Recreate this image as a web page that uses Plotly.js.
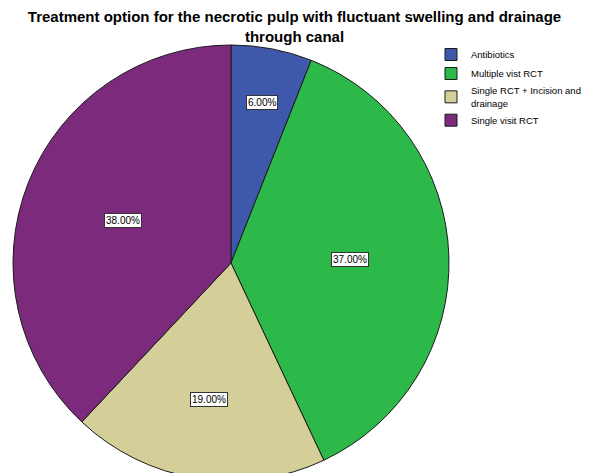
<!DOCTYPE html>
<html>
<head>
<meta charset="utf-8">
<script src="https://cdn.plot.ly/plotly-3.0.1.min.js"></script>
<style>
  html, body { margin: 0; padding: 0; background: #fff; overflow: hidden; }
  #chart { width: 589px; height: 490px; }
</style>
</head>
<body>
<div id="chart"></div>
<script>
// ---- data ----
const categories = ["Antibiotics", "Multiple vist RCT", "Single RCT + Incision and drainage", "Single visit RCT"];
const legendLabels = ["Antibiotics", "Multiple vist RCT", "Single RCT + Incision and<br>drainage", "Single visit RCT"];
const percentValues = [6, 37, 19, 38];
const sliceColors = ["#3E58AC", "#2DB84A", "#D4CE98", "#7B2A7C"];

// ---- layout (styling only) ----
const W = 589, H = 490;
const cx = 231, cy = 263, R = 218;            // pie centre & radius in px
const labelDist = [163, 119, 138, 116];       // px from centre for label boxes

const total = percentValues.reduce((a, b) => a + b, 0);
let cum = 0;
const annotations = percentValues.map((v, i) => {
  const mid = (cum + v / 2) / total * 2 * Math.PI; // clockwise from 12 o'clock
  cum += v;
  const px = cx + labelDist[i] * Math.sin(mid);
  const py = cy - labelDist[i] * Math.cos(mid);
  return {
    x: px / W, y: 1 - py / H, xref: "paper", yref: "paper",
    text: v.toFixed(2) + "%", showarrow: false,
    font: { family: "Liberation Sans, Arial, sans-serif", size: 10, color: "#000" },
    bgcolor: "#ffffff", bordercolor: "#333333", borderwidth: 1, borderpad: 1,
    xanchor: "center", yanchor: "middle"
  };
});

const trace = {
  type: "pie",
  labels: legendLabels,
  values: percentValues,
  sort: false,
  direction: "clockwise",
  rotation: 0,
  textinfo: "none",
  hoverinfo: "none",
  marker: { colors: sliceColors, line: { color: "#1a1a1a", width: 1 } },
  domain: { x: [(cx - R) / W, (cx + R) / W], y: [1 - (cy + R) / H, 1 - (cy - R) / H] }
};

const layout = {
  width: W, height: H,
  margin: { l: 0, r: 0, t: 0, b: 0, autoexpand: false },
  paper_bgcolor: "#ffffff",
  title: {
    text: "<b>Treatment option for the necrotic pulp with fluctuant swelling and drainage<br>through canal</b>",
    font: { family: "Liberation Sans, Arial, sans-serif", size: 15, color: "#000" },
    x: 0.5, xanchor: "center", xref: "paper",
    y: 1 - 22 / H, yanchor: "top", yref: "container"
  },
  showlegend: true,
  legend: {
    x: 431 / W, y: 1 - 40 / H, xanchor: "left", yanchor: "top",
    font: { family: "Liberation Sans, Arial, sans-serif", size: 9.5, color: "#000" },
    bgcolor: "rgba(0,0,0,0)", tracegroupgap: 0, itemwidth: 30
  },
  annotations: annotations
};

Plotly.newPlot("chart", [trace], layout, { displayModeBar: false, staticPlot: true });
</script>
</body>
</html>
